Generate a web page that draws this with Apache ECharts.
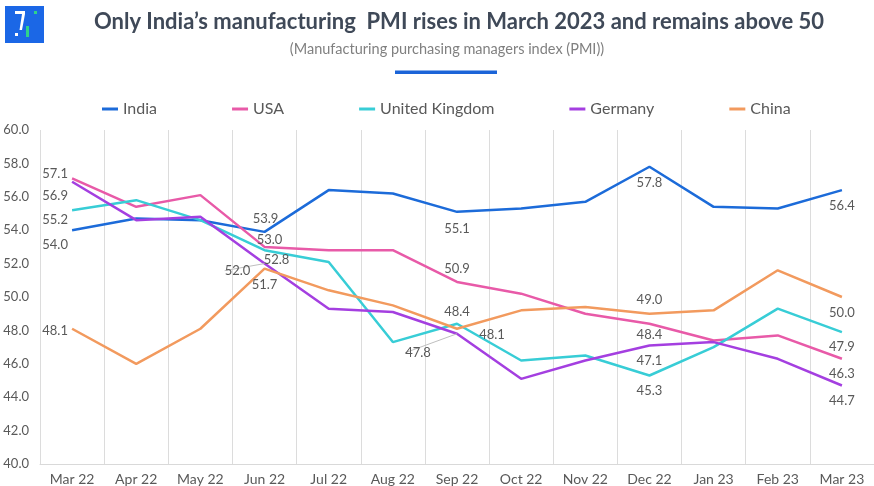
<!DOCTYPE html>
<html>
<head>
<meta charset="utf-8">
<title>Manufacturing PMI</title>
<script src="https://cdn.jsdelivr.net/npm/echarts@6/dist/echarts.min.js"></script>
<style>
  html, body { margin: 0; padding: 0; background: #ffffff; }
  #chart { width: 874px; height: 486px; }
</style>
</head>
<body>
<div id="chart"></div>
<script>
// Months on the horizontal axis
const months = ['Mar 22', 'Apr 22', 'May 22', 'Jun 22', 'Jul 22', 'Aug 22', 'Sep 22',
                'Oct 22', 'Nov 22', 'Dec 22', 'Jan 23', 'Feb 23', 'Mar 23'];

// Manufacturing PMI readings per country
const india   = [54.0, 54.7, 54.6, 53.9, 56.4, 56.2, 55.1, 55.3, 55.7, 57.8, 55.4, 55.3, 56.4];
const usa     = [57.1, 55.4, 56.1, 53.0, 52.8, 52.8, 50.9, 50.2, 49.0, 48.4, 47.4, 47.7, 46.3];
const uk      = [55.2, 55.8, 54.6, 52.8, 52.1, 47.3, 48.4, 46.2, 46.5, 45.3, 47.0, 49.3, 47.9];
const germany = [56.9, 54.6, 54.8, 52.0, 49.3, 49.1, 47.8, 45.1, 46.2, 47.1, 47.3, 46.3, 44.7];
const china   = [48.1, 46.0, 48.1, 51.7, 50.4, 49.5, 48.1, 49.2, 49.4, 49.0, 49.2, 51.6, 50.0];

// Value axis ticks
const yTicks = [40, 42, 44, 46, 48, 50, 52, 54, 56, 58, 60];

const seriesDefs = [
  { name: 'India',          values: india,   color: '#1c6bd9' },
  { name: 'USA',            values: usa,     color: '#e85aa8' },
  { name: 'United Kingdom', values: uk,      color: '#38cdd6' },
  { name: 'Germany',        values: germany, color: '#a43fe0' },
  { name: 'China',          values: china,   color: '#f29a5e' }
];

// Where each value label sits relative to its point: [dx, dy, leaderLine]
const labelSpots = {
  India:            { 0: [-17, 15], 3: [1, -13], 6: [0, 17], 9: [0, 16], 12: [0, 16] },
  USA:              { 0: [-17, -5], 3: [5, -7], 6: [0, -13], 9: [0, 11], 12: [0, 15] },
  'United Kingdom': { 0: [-17, 10], 3: [12, 10], 6: [0, -12], 9: [0, 15], 12: [0, 15] },
  Germany:          { 0: [-17, 14], 3: [-27, 7, true], 6: [-39, 19, true], 9: [0, 15], 12: [0, 15] },
  China:            { 0: [-17, 2], 3: [0, 16], 6: [35, 6], 9: [0, -14], 12: [0, 16] }
};

const FONT = 'Lato, "Open Sans", sans-serif';
const TEXT = '#595959';

const series = seriesDefs.map(function (def) {
  const spots = labelSpots[def.name];
  return {
    name: def.name,
    type: 'line',
    symbol: 'circle',
    symbolSize: 0,
    showSymbol: true,
    showAllSymbol: true,
    lineStyle: { color: def.color, width: 2.5 },
    itemStyle: { color: def.color },
    emphasis: { disabled: true },
    data: def.values.map(function (v, i) {
      const spot = spots[i];
      if (!spot) return { value: v, label: { show: false } };
      return {
        value: v,
        label: {
          show: true,
          position: 'inside',
          formatter: function (p) { return p.value.toFixed(1); },
          color: TEXT,
          fontFamily: FONT,
          fontSize: 13
        },
        labelLine: {
          show: !!spot[2],
          showAbove: true,
          length2: 0,
          lineStyle: { color: '#bfbfbf', width: 1 }
        }
      };
    }),
    labelLayout: function (params) {
      const spot = spots[params.dataIndex];
      if (!spot) return {};
      return { dx: spot[0], dy: spot[1] };
    }
  };
});

const chart = echarts.init(document.getElementById('chart'), null, { renderer: 'canvas' });

chart.setOption({
  animation: false,
  backgroundColor: '#ffffff',
  color: seriesDefs.map(function (d) { return d.color; }),
  graphic: [
    // logo
    { type: 'rect', shape: { x: 5, y: 6, width: 39, height: 37 }, style: { fill: '#1b67e6' } },
    { type: 'rect', shape: { x: 15, y: 11, width: 10, height: 3 }, style: { fill: '#ffffff' } },
    { type: 'polygon', shape: { points: [[22, 14], [25, 14], [22, 30], [19.5, 30]] }, style: { fill: '#ffffff' } },
    { type: 'rect', shape: { x: 15, y: 33, width: 3, height: 3 }, style: { fill: '#ffffff' } },
    { type: 'rect', shape: { x: 26, y: 26, width: 3, height: 11 }, style: { fill: '#2fd38a' } },
    { type: 'rect', shape: { x: 34, y: 11, width: 3, height: 3 }, style: { fill: '#2fd38a' } },
    // heading
    {
      type: 'text', x: 459, y: 22,
      style: {
        text: 'Only India\u2019s manufacturing  PMI rises in March 2023 and remains above 50',
        fill: '#3f4958', font: 'bold 22px ' + FONT,
        textAlign: 'center', textVerticalAlign: 'middle'
      }
    },
    {
      type: 'text', x: 447, y: 49,
      style: {
        text: '(Manufacturing purchasing managers index (PMI))',
        fill: '#808080', font: '14.5px ' + FONT,
        textAlign: 'center', textVerticalAlign: 'middle'
      }
    },
    { type: 'rect', shape: { x: 395, y: 70.5, width: 102, height: 3.5 }, style: { fill: '#1b64d8' } }
  ],
  legend: {
    left: 97,
    top: 96,
    icon: 'rect',
    itemWidth: 16,
    itemHeight: 3,
    itemGap: 75,
    textStyle: { color: TEXT, fontFamily: FONT, fontSize: 16 },
    data: seriesDefs.map(function (d) { return d.name; })
  },
  grid: { left: 40, right: -7, top: 130, bottom: 22, containLabel: false },
  xAxis: {
    type: 'category',
    data: months,
    boundaryGap: true,
    axisLine: { show: true, lineStyle: { color: '#d9d9d9', width: 1 } },
    axisTick: { show: false },
    axisLabel: { color: TEXT, fontFamily: FONT, fontSize: 14, margin: 8, interval: 0 },
    splitLine: { show: true, lineStyle: { color: '#dcdcdc', width: 1 } }
  },
  yAxis: {
    type: 'value',
    min: yTicks[0],
    max: yTicks[yTicks.length - 1],
    interval: yTicks[1] - yTicks[0],
    axisLine: { show: false },
    axisTick: { show: false },
    splitLine: { show: false },
    axisLabel: {
      color: TEXT, fontFamily: FONT, fontSize: 13, margin: 11,
      formatter: function (v) { return v.toFixed(1); }
    }
  },
  series: series
});
</script>
</body>
</html>
